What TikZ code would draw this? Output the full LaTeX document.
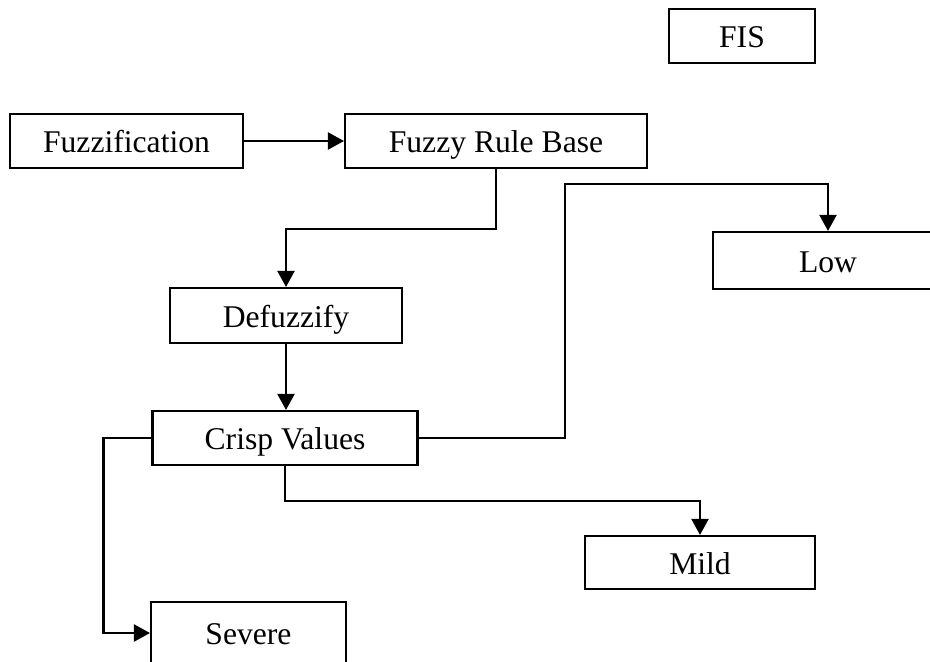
\documentclass[tikz,border=0pt]{standalone}
\usepackage{fontspec}
\setmainfont{Liberation Serif}
\usepackage{tikz}
\usetikzlibrary{arrows.meta,calc}

\tikzset{
  fbox/.style={draw, line width=1.2pt, inner sep=0pt, text height=13.6pt, text depth=0pt,
    font=\fontsize{18}{20}\selectfont},
  flow/.style={line width=1.2pt, -{Triangle[length=0.32cm,width=0.34cm]}}
}

\begin{document}
\begin{tikzpicture}[x=0.02cm,y=-0.02cm]
      \useasboundingbox (0,0) rectangle (930,662);
      \clip (0,0) rectangle (930,662);
      % boxes
      \node [fbox, minimum width=2.92cm, minimum height=1.08cm] (fis) at (742,36) {FIS};
      \node [fbox, minimum width=4.66cm, minimum height=1.08cm] (fuzz) at (126.5,141) {Fuzzification};
      \node [fbox, minimum width=6.04cm, minimum height=1.08cm] (rulebase) at (496,141) {Fuzzy Rule Base};
      \node [fbox, minimum width=4.64cm, minimum height=1.10cm] (defuzz) at (286,315.5) {Defuzzify};
      \node [fbox, minimum width=5.30cm, minimum height=1.08cm] (crisp) at (285,438) {Crisp Values};
      \node [fbox, minimum width=4.60cm, minimum height=1.14cm] (low) at (828,260.5) {Low};
      \node [fbox, minimum width=4.60cm, minimum height=1.06cm] (mild) at (700,562.5) {Mild};
      \node [fbox, minimum width=3.90cm, minimum height=1.24cm] (severe) at (248.5,633) {Severe};
      \coordinate (lowturn) at (565,184);
      % arrows
      \draw [flow] (fuzz.east) -- (rulebase.west);
      \draw [flow] (rulebase.south) -- ++(0,60) -| (defuzz.north);
      \draw [flow] (defuzz.south) -- (defuzz.south |- crisp.north);
      \draw [flow] (crisp.east) -| (lowturn) -| (low.north);
      \draw [flow] (crisp.south) -- ++(0,35) -| (mild.north);
      \draw [flow] (crisp.west) -- ++(-48,0) |- (severe.west);
\end{tikzpicture}
\end{document}
